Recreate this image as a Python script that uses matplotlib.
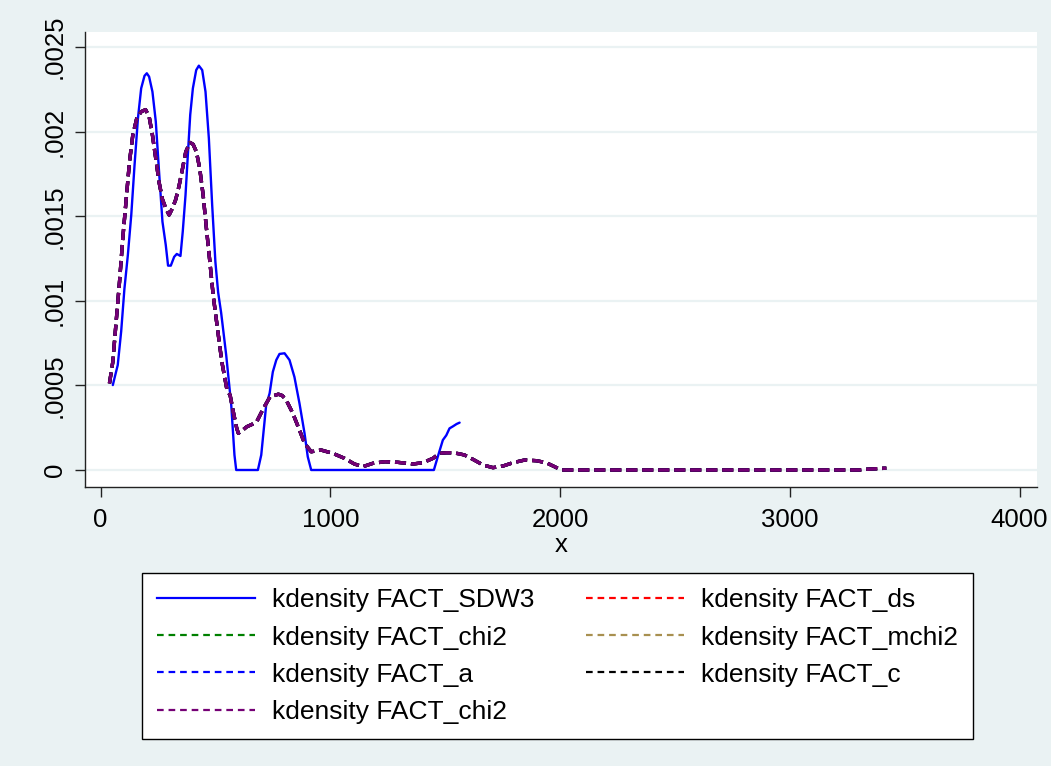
import matplotlib
matplotlib.use("Agg")
import matplotlib.pyplot as plt
from matplotlib.lines import Line2D

plt.rcParams['font.family'] = ['Liberation Sans', 'DejaVu Sans']

# --- data ---
sdw3_x = [53.6, 64, 75, 90, 104, 119, 134, 148, 163, 177, 191.5, 201.5, 211.5, 226, 240.6, 255,
          269.6, 284, 294, 306, 320.6, 332, 348, 358, 370, 380, 390.5, 402, 416.5, 428, 442.6, 457,
          471.6, 486, 500, 512, 525, 547, 569, 583, 590.6, 685, 699.6, 721, 736, 750, 765, 779, 801,
          822.6, 844, 866, 888, 902, 917, 1451, 1468, 1490, 1505, 1519, 1534, 1550, 1563]
sdw3_y = [0.000502, 0.00056, 0.00062, 0.00082, 0.00107, 0.00127, 0.00151, 0.0018, 0.00208, 0.002256,
          0.00233, 0.002345, 0.002325, 0.002236, 0.00206, 0.00176, 0.001468, 0.00133, 0.001208,
          0.001208, 0.00126, 0.001277, 0.001265, 0.00141, 0.001625, 0.00186, 0.0021, 0.002256,
          0.002364, 0.00239, 0.002364, 0.002236, 0.00196, 0.001566, 0.00123, 0.00105, 0.00093,
          0.00068, 0.000384, 0.0000887, 0.0, 0.0, 0.0000887, 0.000384, 0.000453, 0.00058, 0.00065,
          0.000686, 0.00069, 0.00065, 0.00055, 0.000394, 0.000217, 0.0000786, 0.0, 0.0, 0.0000786,
          0.000177, 0.000205, 0.000246, 0.000258, 0.000272, 0.00028]

kd_x = [39, 53.6, 68, 82.6, 97, 111.8, 126, 140.6, 158, 177, 196, 211.5, 226, 240.6, 255, 269.6, 284,
        298.5, 313, 327.7, 342, 356.7, 371, 389, 403, 417.6, 432, 446.7, 461, 476, 490.6, 509, 528,
        551, 564, 580, 593, 600, 618, 637, 660, 680, 709, 738, 756, 774, 791, 808, 837, 866, 888, 917,
        960, 1011, 1062, 1105, 1142, 1185, 1238, 1294, 1360, 1403, 1447, 1475.5, 1505, 1534, 1560,
        1584, 1621, 1665, 1708, 1752, 1795, 1846, 1897, 1940, 1976, 2005, 2500, 3000, 3300, 3333,
        3370, 3409, 3420]
kd_y = [0.000512, 0.00064, 0.000876, 0.00111, 0.00137, 0.0016, 0.00182, 0.00198, 0.00208, 0.002118,
        0.00213, 0.00209, 0.00198, 0.00184, 0.0017, 0.0016, 0.001547, 0.001507, 0.001547, 0.0016,
        0.00168, 0.00178, 0.00188, 0.001936, 0.001925, 0.00188, 0.00178, 0.001625, 0.001428, 0.00123,
        0.00103, 0.000837, 0.00064, 0.00047, 0.000443, 0.00033, 0.000246, 0.000217, 0.000235,
        0.000256, 0.00027, 0.000286, 0.000364, 0.000433, 0.00044, 0.000448, 0.00044, 0.000414,
        0.000335, 0.000236, 0.000158, 0.000108, 0.000118, 0.0000985, 0.000069, 0.0000355, 0.0000197,
        0.0000394, 0.000049, 0.0000453, 0.0000355, 0.000043, 0.000069, 0.0000985, 0.000102,
        0.000102, 0.000096, 0.0000887, 0.000063, 0.0000296, 0.0000138, 0.0000236, 0.000043,
        0.000059, 0.000055, 0.000043, 0.0000197, 0.0, 0.0, 0.0, 0.0, 0.000004, 0.000007, 0.00001,
        0.00001]

series_labels = ["kdensity FACT_SDW3", "kdensity FACT_ds", "kdensity FACT_chi2", "kdensity FACT_mchi2",
                 "kdensity FACT_a", "kdensity FACT_c", "kdensity FACT_chi2"]
series_colors = ["#0000FF", "#FF0000", "#008000", "#A89050", "#0000FF", "#000000", "#750075"]

x_ticks = [0, 1000, 2000, 3000, 4000]
y_ticks = [0, 0.0005, 0.001, 0.0015, 0.002, 0.0025]
y_ticklabels = ["0", ".0005", ".001", ".0015", ".002", ".0025"]

BG = "#EAF2F3"

fig = plt.figure(figsize=(10.51, 7.66), dpi=100, facecolor=BG)
ax = fig.add_axes([85/1051, 1 - 487/766, (1037-85)/1051, (487-32)/766])
ax.set_facecolor("white")

handles = []
for i, (lab, col) in enumerate(zip(series_labels, series_colors)):
    if i == 0:
        ax.plot(sdw3_x, sdw3_y, color=col, lw=1.7, solid_joinstyle='round', solid_capstyle='round')
        h = Line2D([], [], color=col, lw=1.6)
    else:
        ax.plot(kd_x, kd_y, color=col, lw=2.4, dashes=(3.3, 1.5), dash_joinstyle='round')
        h = Line2D([], [], color=col, lw=1.6, dashes=(3.0, 2.2))
    handles.append(h)

ax.set_xlim(-67.5, 4076)
ax.set_ylim(-0.0001005, 0.002589)
ax.set_xticks(x_ticks)
ax.set_xticklabels([str(t) for t in x_ticks])
ax.set_yticks(y_ticks)
ax.set_yticklabels(y_ticklabels, rotation=90, va='center')
ax.tick_params(axis='both', labelsize=18.5, length=7, width=1.0, color='#222222', direction='out')
ax.tick_params(axis='y', pad=6)
ax.tick_params(axis='x', pad=8)
ax.yaxis.grid(True, color=BG, lw=1.6)
ax.set_axisbelow(True)
for s in ['top', 'right']:
    ax.spines[s].set_visible(False)
for s in ['left', 'bottom']:
    ax.spines[s].set_color('#222222')
    ax.spines[s].set_linewidth(1.0)
ax.set_xlabel("x", fontsize=18.5, labelpad=1)

order = [0, 2, 4, 6, 1, 3, 5]
leg = fig.legend([handles[i] for i in order], [series_labels[i] for i in order],
                 ncol=2, loc='upper left', bbox_to_anchor=(142/1051, 1 - 573/766),
                 fontsize=19, frameon=True, fancybox=False, edgecolor='black', framealpha=1,
                 handlelength=3.7, handletextpad=0.64, columnspacing=1.97,
                 labelspacing=0.5, borderpad=0.58, borderaxespad=0)
leg.get_frame().set_linewidth(1.0)
leg.get_frame().set_facecolor('white')

fig.savefig("out.png", dpi=100, facecolor=BG)
